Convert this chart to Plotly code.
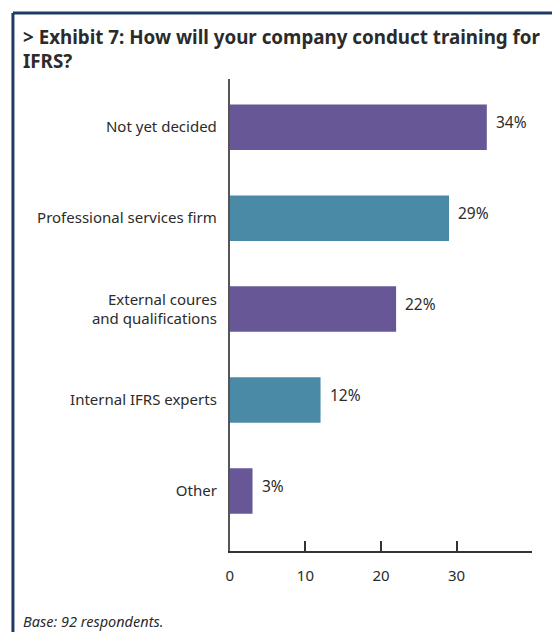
import plotly.graph_objects as go

# Survey responses: how companies will conduct IFRS training
categories = ["Not yet decided", "Professional services firm",
              "External coures<br>and qualifications", "Internal IFRS experts", "Other"]
shares = [34, 29, 22, 12, 3]
bar_colors = ["#675797", "#4a8aa6", "#675797", "#4a8aa6", "#675797"]
x_tick_vals = [0, 10, 20, 30, 40]
x_tick_text = ["0", "10", "20", "30", ""]

W, H = 552, 632
FONT = "Noto Sans"
TEXT = "#2b2b2b"
FRAME = "#1f3b63"

fig = go.Figure(go.Bar(
    x=shares, y=categories, orientation="h",
    marker=dict(color=bar_colors, line=dict(width=0)),
    width=0.5, hoverinfo="skip",
))

# value labels next to each bar end
for cat, v in zip(categories, shares):
    fig.add_annotation(x=v, y=cat, text=f"{v}%", showarrow=False,
                       xanchor="left", xshift=7, yshift=5,
                       font=dict(family=FONT, size=15.5, color=TEXT))

# title and footnote
fig.add_annotation(xref="paper", yref="paper", x=17 / W, y=1 - 22 / H,
                   xanchor="left", yanchor="top", align="left", showarrow=False,
                   text="<b>&gt; Exhibit 7: How will your company conduct training for<br>IFRS?</b>",
                   font=dict(family=FONT, size=18.8, color=TEXT))
fig.add_annotation(xref="paper", yref="paper", x=17 / W, y=1 - 621 / H,
                   xanchor="left", yanchor="middle", showarrow=False,
                   text="<i>Base: 92 respondents.</i>",
                   font=dict(family=FONT, size=14.5, color=TEXT))

# frame: top and left rules
fig.add_shape(type="line", xref="paper", yref="paper",
              x0=9 / W, x1=1.01, y0=1 - 13 / H, y1=1 - 13 / H,
              line=dict(color=FRAME, width=3))
fig.add_shape(type="line", xref="paper", yref="paper",
              x0=9 / W, x1=9 / W, y0=1 - 13 / H, y1=-0.01,
              line=dict(color=FRAME, width=3))

fig.update_layout(
    width=W, height=H, margin=dict(l=0, r=0, t=0, b=0),
    paper_bgcolor="white", plot_bgcolor="white", showlegend=False,
    xaxis=dict(domain=[227.5 / W, 532 / W], range=[0, 40],
               tickvals=x_tick_vals, ticktext=x_tick_text,
               ticks="inside", ticklen=10, tickwidth=1.5, tickcolor="#333",
               showline=True, linecolor="#333", linewidth=1.5,
               showgrid=False, zeroline=False, ticklabelstandoff=10,
               tickfont=dict(family=FONT, size=15, color=TEXT)),
    yaxis=dict(domain=[1 - 551 / H, 1 - 79 / H], range=[4.66, -0.53],
               showline=True, linecolor="#555", linewidth=2,
               ticks="", showgrid=False, zeroline=False, ticklabelstandoff=8,
               tickfont=dict(family=FONT, size=15, color=TEXT)),
)

fig.write_html("out.html")
